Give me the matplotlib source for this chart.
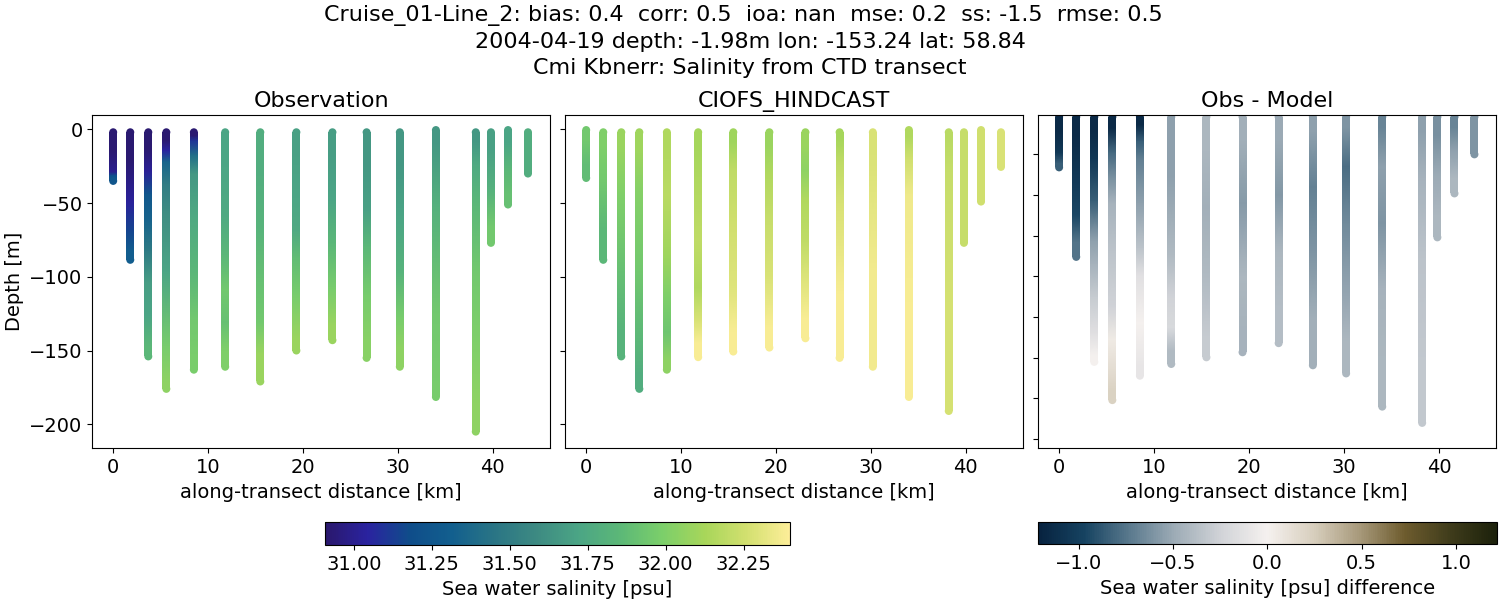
import matplotlib
matplotlib.use("Agg")
import matplotlib.pyplot as plt
from matplotlib.cm import ScalarMappable
from matplotlib.colors import LinearSegmentedColormap, Normalize
from matplotlib.path import Path
import numpy as np

FIG_W = 1500
FIG_H = 600
STRIP_KM = 0.84  # 8 pixels wide strips
CAP_SIZE = 33
PX_PER_M = 1.475
PX_PER_M_DIFF = 1.628

# along-transect position of each cast [km]
dist = [0, 1.8, 3.7, 5.6, 8.5, 11.8, 15.5, 19.3, 23.1, 26.7, 30.2, 34.0, 38.2, 39.8, 41.6, 43.7]

# every cast: depths are the band edges, values hold one number per band
obs_depth = [
    [-2, -28, -30, -33, -35],
    [-2, -41, -59, -77, -88.5],
    [-2, -25, -33, -55, -70, -95, -113, -140, -154],
    [-2, -13, -16, -28, -46, -66, -127, -167, -176],
    [-2, -6, -10, -25, -35, -82, -115, -145, -163],
    [-2, -40, -77, -95, -122, -140, -161],
    [-2, -55, -77, -127, -134, -171],
    [-2, -32, -55, -82, -92, -133, -150],
    [-2, -32, -64, -91, -123, -143],
    [-2, -46, -64, -95, -131, -155],
    [-2, -46, -74, -120, -135, -161],
    [-0.5, -19, -84, -168, -181.5],
    [-2, -15, -32, -70, -123, -168, -205],
    [-2, -25, -55, -77],
    [-0.5, -18, -37, -51],
    [-2, -30],
]
obs_salt = [
    [30.92, 31.0, 31.2, 31.25],
    [30.92, 31.03, 31.15, 31.3],
    [30.92, 31.02, 31.25, 31.35, 31.48, 31.68, 31.72, 31.85],
    [30.92, 31.05, 31.35, 31.5, 31.6, 31.72, 31.97, 32.05],
    [30.92, 31.1, 31.4, 31.65, 31.75, 31.85, 31.95, 31.98],
    [31.72, 31.75, 31.85, 31.95, 31.9, 32.0],
    [31.78, 31.82, 31.9, 31.95, 32.08],
    [31.7, 31.72, 31.75, 31.88, 31.97, 32.08],
    [31.68, 31.72, 31.85, 31.97, 32.08],
    [31.65, 31.7, 31.85, 31.97, 32.03],
    [31.65, 31.72, 31.82, 31.97, 32.05],
    [31.65, 31.8, 31.95, 31.97],
    [31.65, 31.75, 31.85, 31.95, 32.0, 32.05],
    [31.7, 31.8, 31.95],
    [31.72, 31.85, 31.9],
    [31.78],
]

model_depth = [
    [-0.5, -15, -33],
    [-2, -20, -50, -88.5],
    [-2, -20, -70, -120, -154],
    [-2, -25, -60, -130, -155, -176],
    [-2, -20, -70, -100, -125, -150, -163],
    [-2, -20, -60, -90, -125, -135, -154.5],
    [-2, -15, -40, -90, -125, -150.7],
    [-2, -20, -40, -80, -120, -148],
    [-2, -20, -35, -60, -90, -115, -141.7],
    [-2, -10, -35, -70, -155],
    [-2, -30, -161],
    [-0.5, -10, -30, -60, -181.5],
    [-2, -10, -50, -191],
    [-2, -77],
    [-0.5, -49],
    [-2, -25.5],
]
model_salt = [
    [31.95, 31.88],
    [32.0, 31.95, 31.85],
    [32.08, 32.0, 31.9, 31.82],
    [32.1, 32.02, 31.95, 31.85, 31.78],
    [32.15, 32.18, 32.1, 32.0, 31.93, 32.05],
    [32.12, 32.16, 32.2, 32.15, 32.28, 32.38],
    [32.1, 32.2, 32.25, 32.3, 32.38],
    [32.08, 32.15, 32.22, 32.28, 32.38],
    [32.08, 32.05, 32.15, 32.2, 32.3, 32.38],
    [32.12, 32.2, 32.28, 32.38],
    [32.28, 32.36],
    [32.15, 32.25, 32.35, 32.38],
    [32.18, 32.22, 32.27],
    [32.22],
    [32.25],
    [32.28],
]

diff_depth = [
    [-2, -20, -28, -33],
    [-2, -25, -55, -70, -88],
    [-2, -20, -36, -71, -85, -100, -125, -145, -152.5],
    [-2, -16, -32, -50, -60, -110, -127, -150, -165, -176],
    [-2, -12, -22, -35, -75, -90, -108, -149, -161],
    [-2, -75, -100, -125, -138, -153.8],
    [-2, -40, -75, -125, -149.7],
    [-2, -30, -80, -120, -146.6],
    [-2, -30, -70, -100, -141],
    [-2, -20, -70, -100, -154.6],
    [-2, -15, -50, -85, -120, -159.6],
    [-2, -15, -50, -85, -130, -180],
    [-2, -20, -60, -120, -190],
    [-2, -25, -50, -76],
    [-2, -15, -30, -49],
    [-2, -25],
]
diff_salt = [
    [-1.15, -1.05, -0.85],
    [-1.15, -1.05, -0.95, -0.75],
    [-1.15, -1.05, -0.85, -0.55, -0.45, -0.3, -0.15, 0.0],
    [-1.15, -0.8, -0.6, -0.45, -0.35, -0.25, 0.05, 0.15, 0.22],
    [-1.15, -0.85, -0.7, -0.55, -0.35, -0.15, 0.0, -0.1],
    [-0.55, -0.4, -0.25, -0.2, -0.4],
    [-0.42, -0.47, -0.4, -0.3],
    [-0.47, -0.57, -0.42, -0.45],
    [-0.5, -0.58, -0.42, -0.38],
    [-0.55, -0.7, -0.6, -0.47],
    [-0.6, -0.78, -0.65, -0.55, -0.42],
    [-0.68, -0.55, -0.6, -0.45, -0.42],
    [-0.55, -0.45, -0.35, -0.32],
    [-0.62, -0.5, -0.42],
    [-0.68, -0.55, -0.42],
    [-0.6],
]

x_ticks = [0, 10, 20, 30, 40]
y_ticks = [0, -50, -100, -150, -200]
diff_y_ticks = [-25, -50, -75, -100, -125, -150, -175, -200]
salt_ticks = [31.00, 31.25, 31.50, 31.75, 32.00, 32.25]
diff_ticks = [-1.0, -0.5, 0.0, 0.5, 1.0]

haline = LinearSegmentedColormap.from_list("haline", [
    "#2a186c", "#2a23a0", "#0f4d8a", "#125f8e", "#2a7585", "#3d8a82",
    "#4ba585", "#5cb877", "#7ccf6a", "#a8d65a", "#d3e070", "#fdee99"])
diff_cmap = LinearSegmentedColormap.from_list("diff", [
    "#07223f", "#164361", "#5b7a8e", "#9fadb7", "#d2d4d8", "#f5f1ef",
    "#d8cfbe", "#a89a7c", "#6e5c2e", "#3f3c1b", "#1c210b"])
salt_norm = Normalize(30.907, 32.40)
diff_norm = Normalize(-1.215, 1.215)


def axes_box(left, top, right, bottom):
    """Turn pixel edges into a figure rectangle."""
    return [left / FIG_W, 1 - bottom / FIG_H, (right - left) / FIG_W, (bottom - top) / FIG_H]


def strip_outline(x, top, bottom, half_w):
    """Outline of one strip, in data units."""
    return Path([(x - half_w, top), (x + half_w, top), (x + half_w, bottom),
                 (x - half_w, bottom), (x - half_w, top)])


def draw_casts(ax, depths, values, cmap, norm, px_per_m):
    """Draw each cast as a shaded strip with round ends."""
    half_w = STRIP_KM / 2
    ry = 4 / px_per_m
    for x, dep, val in zip(dist, depths, values):
        dep = np.array(dep, dtype=float)
        val = np.array(val, dtype=float)
        # colour is pinned at the middle of each band, the renderer shades between
        yy = np.concatenate([[dep[0] + 2 * ry], (dep[:-1] + dep[1:]) / 2, [dep[-1] - 2 * ry]])
        cc = np.concatenate([val[:1], val, val[-1:]])
        xx = np.array([x - 2 * half_w, x + 2 * half_w])
        mesh = ax.pcolormesh(xx, yy, np.column_stack([cc, cc]), shading="gouraud",
                             cmap=cmap, norm=norm)
        mesh.set_clip_path(strip_outline(x, dep[0], dep[-1], half_w), ax.transData)
        ax.scatter([x, x], [dep[0], dep[-1]], c=[val[0], val[-1]], s=CAP_SIZE,
                   cmap=cmap, norm=norm, linewidths=0)


fig = plt.figure(figsize=(FIG_W / 100, FIG_H / 100), dpi=100)
ax1 = fig.add_axes(axes_box(92.4, 115.3, 549.8, 448.3))
ax2 = fig.add_axes(axes_box(565.4, 115.3, 1022.8, 448.3))
ax3 = fig.add_axes(axes_box(1038.3, 115.3, 1496.3, 448.3))

draw_casts(ax1, obs_depth, obs_salt, haline, salt_norm, PX_PER_M)
draw_casts(ax2, model_depth, model_salt, haline, salt_norm, PX_PER_M)
draw_casts(ax3, diff_depth, diff_salt, diff_cmap, diff_norm, PX_PER_M_DIFF)

for ax, title in zip([ax1, ax2, ax3], ["Observation", "CIOFS_HINDCAST", "Obs - Model"]):
    ax.set_xlim(-2.19, 46.0)
    ax.set_xticks(x_ticks)
    ax.tick_params(labelsize=14)
    ax.set_xlabel("along-transect distance [km]", fontsize=14)
    ax.set_title(title, fontsize=16)

ax1.set_ylim(-216.3, 9.5)
ax2.set_ylim(-216.3, 9.5)
ax1.set_yticks(y_ticks)
ax2.set_yticks(y_ticks)
ax2.set_yticklabels([])
ax1.set_ylabel("Depth [m]", fontsize=14)
ax3.set_ylim(-205.6, -1.0)
ax3.set_yticks(diff_y_ticks)
ax3.set_yticklabels([])

cax1 = fig.add_axes(axes_box(324.8, 522.3, 790.3, 545.3))
cb1 = fig.colorbar(ScalarMappable(salt_norm, haline), cax=cax1, orientation="horizontal")
cb1.set_ticks(salt_ticks)
cb1.ax.set_xticklabels([f"{t:.2f}" for t in salt_ticks])
cb1.ax.tick_params(labelsize=14)
cb1.set_label("Sea water salinity [psu]", fontsize=14)

cax2 = fig.add_axes(axes_box(1038.0, 522.3, 1496.7, 544.3))
cb2 = fig.colorbar(ScalarMappable(diff_norm, diff_cmap), cax=cax2, orientation="horizontal")
cb2.set_ticks(diff_ticks)
cb2.ax.tick_params(labelsize=14)
cb2.set_label("Sea water salinity [psu] difference", fontsize=14)

fig.suptitle("Cruise_01-Line_2: bias: 0.4  corr: 0.5  ioa: nan  mse: 0.2  ss: -1.5  rmse: 0.5  \n"
             "2004-04-19 depth: -1.98m lon: -153.24 lat: 58.84\n"
             "Cmi Kbnerr: Salinity from CTD transect",
             fontsize=16, x=0.5, y=0.992, linespacing=1.37)

fig.savefig("out.png", dpi=100)
